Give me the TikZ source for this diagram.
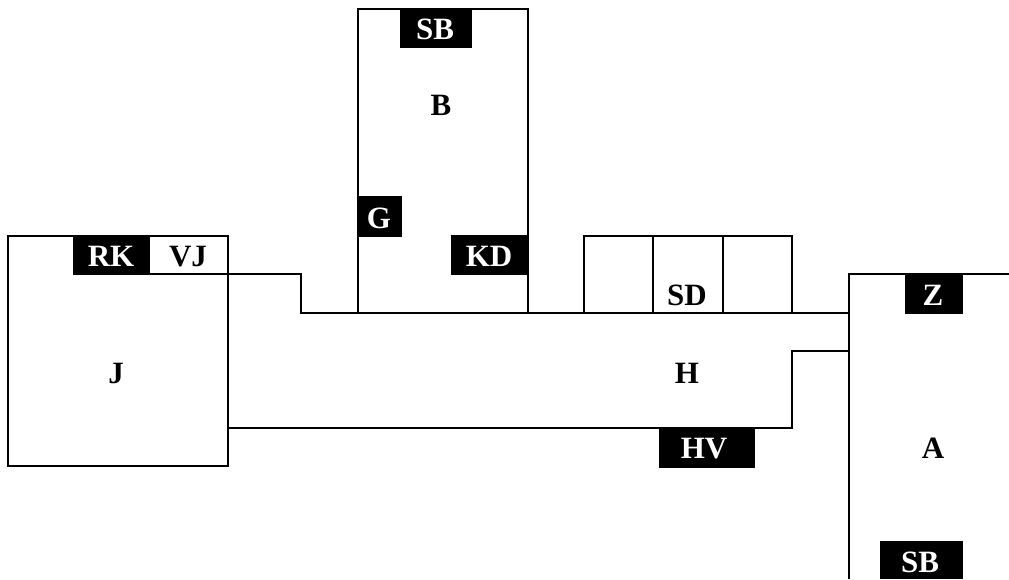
\documentclass[tikz,border=0pt]{standalone}
\usepackage{fontspec}
\setmainfont{Liberation Serif}
\tikzset{
  wall/.style={draw=black,line width=2pt,line join=miter},
  tag/.style={fill=black},
  lbl/.style={anchor=base,inner sep=0pt,outer sep=0pt,font=\fontsize{31}{31}\selectfont\bfseries,text=black},
  wlbl/.style={lbl,text=white}
}
\begin{document}
\begin{tikzpicture}[x=1pt,y=-1pt]
\useasboundingbox (0,0) rectangle (1009,579);
% rooms
\draw[wall] (8,236) rectangle (228,466);
\draw[wall] (358,9) rectangle (528,313);
\draw[wall] (584,313) -- (584,236) -- (792,236) -- (792,313);
\draw[wall] (653,236) -- (653,313);
\draw[wall] (723,236) -- (723,313);
% corridor H
\draw[wall] (150,274) -- (301,274) -- (301,313) -- (849,313);
\draw[wall] (228,428) -- (792,428) -- (792,351) -- (849,351);
% room A
\draw[wall] (849,579) -- (849,274) -- (1009,274);
% black tags
\fill[tag] (73,236) rectangle (150,275);
\fill[tag] (400,9) rectangle (472,48);
\fill[tag] (358,196) rectangle (402,237);
\fill[tag] (451,235) rectangle (528,275);
\fill[tag] (905,274) rectangle (963,314);
\fill[tag] (659,428) rectangle (755,468);
\fill[tag] (880,541) rectangle (963,579);
% labels
\node[lbl] (j) at (116,383) {J};
\node[lbl] (h) at (687,383) {H};
\node[lbl] (b) at (441,115) {B};
\node[lbl] (a) at (933,458) {A};
\node[lbl] (sd) at (687,305) {SD};
\node[lbl] (vj) at (188,266) {VJ};
\node[wlbl] (rk) at (111,266) {RK};
\node[wlbl] (sb1) at (435,39) {SB};
\node[wlbl] (g) at (379,228) {G};
\node[wlbl] (kd) at (489,266) {KD};
\node[wlbl] (z) at (933,305) {Z};
\node[wlbl] (hv) at (704,458) {HV};
\node[wlbl] (sb2) at (920,572) {SB};
\end{tikzpicture}
\end{document}
